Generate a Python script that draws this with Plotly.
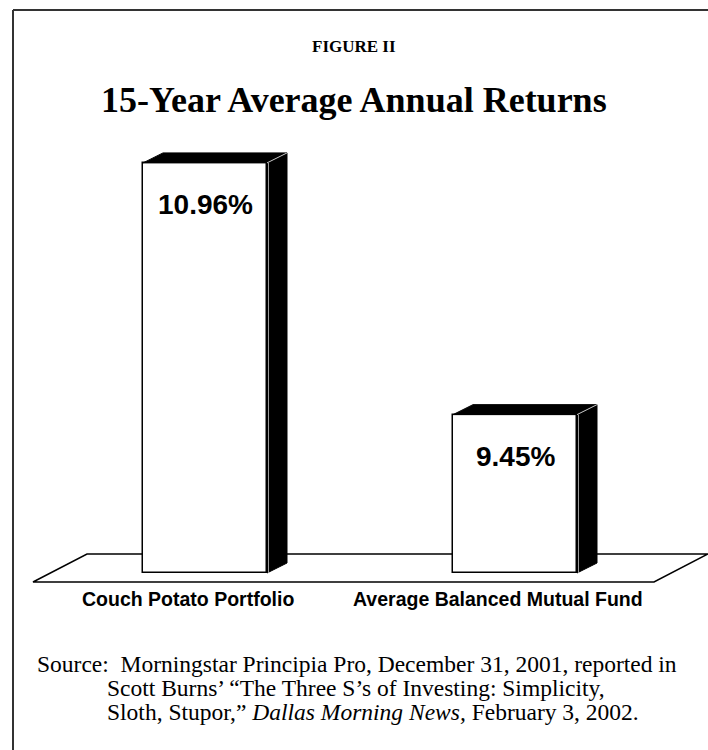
import plotly.graph_objects as go

# ---------------- data ----------------
categories = ["Couch Potato Portfolio", "Average Balanced Mutual Fund"]
returns = [10.96, 9.45]
value_labels = ["10.96%", "9.45%"]
figure_label = "FIGURE II"
chart_title = "15-Year Average Annual Returns"
source_lines = [
    "Source:  Morningstar Principia Pro, December 31, 2001, reported in",
    "Scott Burns\u2019 \u201cThe Three S\u2019s of Investing: Simplicity,",
    "Sloth, Stupor,\u201d <i>Dallas Morning News,</i> February 3, 2002.",
]

# ---------------- geometry / style ----------------
W, H = 708, 750
BASE = 8.5                 # value at the floor line
X0_PX = 205                # pixel x of first category centre
PX_PER_CAT = 310
Y_BASE_PX = 573            # pixel y (from top) of the floor line
PX_PER_UNIT = 166.7
BAR_W = 0.4
DEPTH_X = 20 / PX_PER_CAT
DEPTH_Y = 10 / PX_PER_UNIT

SERIF = "Liberation Serif, Times New Roman, serif"
SANS = "Liberation Sans, Arial, sans-serif"

x_range = [-X0_PX / PX_PER_CAT, (W - X0_PX) / PX_PER_CAT]
y_range = [BASE - (H - Y_BASE_PX) / PX_PER_UNIT, BASE + Y_BASE_PX / PX_PER_UNIT]

xs = list(range(len(categories)))

fig = go.Figure()

# front faces
fig.add_trace(go.Bar(
    x=xs, y=[v - BASE for v in returns], base=BASE, width=BAR_W,
    marker=dict(color="white", line=dict(color="black", width=1.5)),
    hoverinfo="skip", showlegend=False,
))

# 3D side and top faces
for x, v in zip(xs, returns):
    xl, xr = x - BAR_W / 2, x + BAR_W / 2
    fig.add_trace(go.Scatter(
        x=[xr, xr + DEPTH_X, xr + DEPTH_X, xr, xr],
        y=[BASE, BASE + DEPTH_Y, v + DEPTH_Y, v, BASE],
        fill="toself", fillcolor="black", mode="lines",
        line=dict(color="black", width=1), hoverinfo="skip", showlegend=False,
    ))
    fig.add_trace(go.Scatter(
        x=[xl, xl + DEPTH_X, xr + DEPTH_X, xr, xl],
        y=[v, v + DEPTH_Y, v + DEPTH_Y, v, v],
        fill="toself", fillcolor="black", mode="lines",
        line=dict(color="black", width=1), hoverinfo="skip", showlegend=False,
    ))
    fig.add_trace(go.Scatter(
        x=[xr, xr + DEPTH_X], y=[v, v + DEPTH_Y], mode="lines",
        line=dict(color="#c8c8c8", width=1), hoverinfo="skip", showlegend=False,
    ))
    fig.add_trace(go.Scatter(
        x=[xr + 1.5 / PX_PER_CAT, xr + 1.5 / PX_PER_CAT], y=[BASE, v], mode="lines",
        line=dict(color="#9a9a9a", width=1), hoverinfo="skip", showlegend=False,
    ))

# floor (parallelogram) drawn below the bars
fl_bot = BASE - 9 / PX_PER_UNIT
fl_top = BASE + 19 / PX_PER_UNIT
shear = 54 / PX_PER_CAT
left_b = xs[0] - 172 / PX_PER_CAT
right_b = xs[-1] + 139 / PX_PER_CAT
floor_path = (f"M {left_b},{fl_bot} L {left_b + shear},{fl_top} "
              f"L {right_b + shear},{fl_top} L {right_b},{fl_bot} Z")

frame_x = 13 / W
frame_y = 1 - 10 / H
shapes = [
    dict(type="path", path=floor_path, xref="x", yref="y", layer="below",
         line=dict(color="black", width=1.5), fillcolor="white"),
    # outer frame (top and left edges; the rest lies outside the page)
    dict(type="line", xref="paper", yref="paper", x0=frame_x, x1=1,
         y0=frame_y, y1=frame_y, line=dict(color="#333333", width=2), layer="below"),
    dict(type="line", xref="paper", yref="paper", x0=frame_x, x1=frame_x,
         y0=0, y1=frame_y, line=dict(color="#333333", width=2), layer="below"),
]

annotations = [
    dict(text=f"<b>{figure_label}</b>", x=0.5, y=1 - 47 / H, xref="paper", yref="paper",
         showarrow=False, xanchor="center", yanchor="middle",
         font=dict(family=SERIF, size=17, color="black")),
    dict(text=f"<b>{chart_title}</b>", x=0.5, y=1 - 100 / H, xref="paper", yref="paper",
         showarrow=False, xanchor="center", yanchor="middle",
         font=dict(family=SERIF, size=36, color="black")),
]
for x, v, lab in zip(xs, returns, value_labels):
    annotations.append(dict(
        text=f"<b>{lab}</b>", x=x, y=v, xref="x", yref="y", yshift=-42,
        showarrow=False, xanchor="center", yanchor="middle",
        font=dict(family=SANS, size=28, color="black")))
for x, c in zip(xs, categories):
    annotations.append(dict(
        text=f"<b>{c}</b>", x=x, y=BASE, xref="x", yref="y", yshift=-26, xshift=-17,
        showarrow=False, xanchor="center", yanchor="middle",
        font=dict(family=SANS, size=19.5, color="black")))

src_x = [35, 105, 105]
src_y = [664, 688, 712]
for t, sx, sy in zip(source_lines, src_x, src_y):
    annotations.append(dict(
        text=t, x=sx / W, y=1 - sy / H, xref="paper", yref="paper",
        showarrow=False, xanchor="left", yanchor="middle",
        font=dict(family=SERIF, size=23.5, color="black")))

fig.update_layout(
    width=W, height=H, margin=dict(l=0, r=0, t=0, b=0),
    paper_bgcolor="white", plot_bgcolor="white",
    xaxis=dict(range=x_range, visible=False, fixedrange=True),
    yaxis=dict(range=y_range, visible=False, fixedrange=True),
    shapes=shapes, annotations=annotations, showlegend=False,
    bargap=0,
)

fig.write_html("out.html", config={"displayModeBar": False},
               post_script="document.body.style.margin='0px';"
                           "document.body.style.overflow='hidden';")
